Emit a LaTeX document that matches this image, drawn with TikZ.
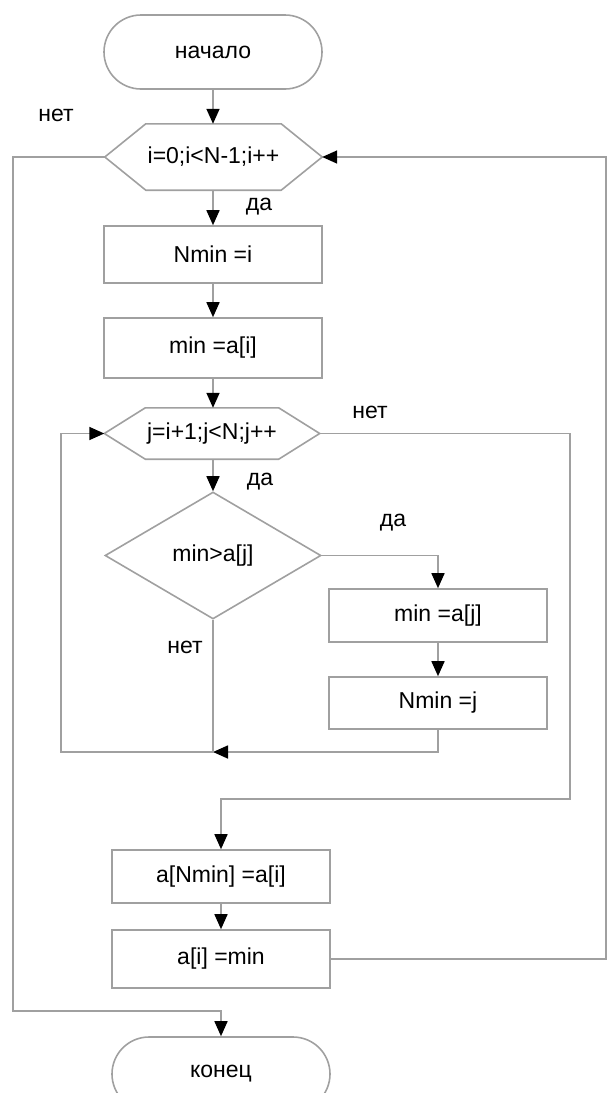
\documentclass[tikz,border=0pt]{standalone}
\usepackage{fontspec}
\setmainfont{Liberation Sans}
\usetikzlibrary{arrows.meta,shapes.misc,shapes.geometric}
\definecolor{linegray}{RGB}{160,160,160}
\tikzset{
  conn/.style={draw=linegray, line width=1.6pt},
  arr/.style={conn, -{Triangle[length=15pt,width=13pt,color=black]}},
  box/.style={draw=linegray, line width=1.6pt, rectangle, minimum width=218pt, inner sep=0pt},
  term/.style={draw=linegray, line width=1.6pt, rounded rectangle, minimum width=218pt, minimum height=74pt, inner sep=0pt},
  dec/.style={draw=linegray, line width=1.6pt, diamond, minimum width=216pt, minimum height=127pt, inner sep=0pt},
  hexa/.style={rectangle, inner sep=0pt},
  lbl/.style={inner sep=0pt}
}
\newcommand{\hexdraw}[1]{%
  \draw[conn] (#1.west) -- ([xshift=41pt]#1.north west) -- ([xshift=-41pt]#1.north east)
    -- (#1.east) -- ([xshift=-41pt]#1.south east) -- ([xshift=41pt]#1.south west) -- cycle;}
\begin{document}
\begin{tikzpicture}[x=1pt,y=-1pt,font=\fontsize{23}{27}\selectfont]
\useasboundingbox (0,0) rectangle (608,1093);
% nodes
\node[term] (start) at (213,52) {начало};
\node[hexa, minimum width=217pt, minimum height=66pt] (h1) at (213.5,157) {i=0;i<N-1;i++};
\hexdraw{h1}
\node[box, minimum height=57pt] (b1) at (213,254.5) {Nmin =i};
\node[box, minimum height=60pt] (b2) at (213,348) {min =a[i]};
\node[hexa, minimum width=215pt, minimum height=51pt] (h2) at (212,433.5) {j=i+1;j<N;j++};
\hexdraw{h2}
\node[dec] (d) at (213,555.5) {min>a[j]};
\node[box, minimum height=53pt] (b3) at (438,615.5) {min =a[j]};
\node[box, minimum height=52pt] (b4) at (438,703) {Nmin =j};
\node[box, minimum height=53pt] (b5) at (221,876.5) {a[Nmin] =a[i]};
\node[box, minimum height=58pt] (b6) at (221,959) {a[i] =min};
\node[term] (end) at (221,1074) {конец};
% labels
\node[lbl] (l1) at (56,115) {нет};
\node[lbl] (l2) at (259,207) {да};
\node[lbl] (l3) at (370,412) {нет};
\node[lbl] (l4) at (260,482) {да};
\node[lbl] (l5) at (393,523) {да};
\node[lbl] (l6) at (185,647) {нет};
% bend points
\coordinate (m) at (213,752);
\coordinate (lb) at (61,752);
\coordinate (rj) at (570,799);
\coordinate (ro) at (606,959);
\coordinate (lo) at (13,1011);
% connectors
\draw[arr] (start.south) -- (start.south |- h1.north);
\draw[arr] (h1.south -| start.south) -- (start.south |- b1.north);
\draw[arr] (b1.south) -- (b2.north);
\draw[arr] (b2.south) -- (b2.south |- h2.north);
\draw[arr] (h2.south -| d.north) -- (d.north);
\draw[arr] (d.east) -| (b3.north);
\draw[arr] (b3.south) -- (b4.north);
\draw[arr] (b4.south) |- (m);
\draw[arr] (d.south) -- (m) -- (lb) |- (h2.west);
\draw[arr] (h2.east) -| (rj) -| (b5.north);
\draw[arr] (b5.south) -- (b6.north);
\draw[arr] (b6.east) -- (ro) |- (h1.east);
\draw[arr] (h1.west) -| (lo) -| (end.north);
\end{tikzpicture}
\end{document}
